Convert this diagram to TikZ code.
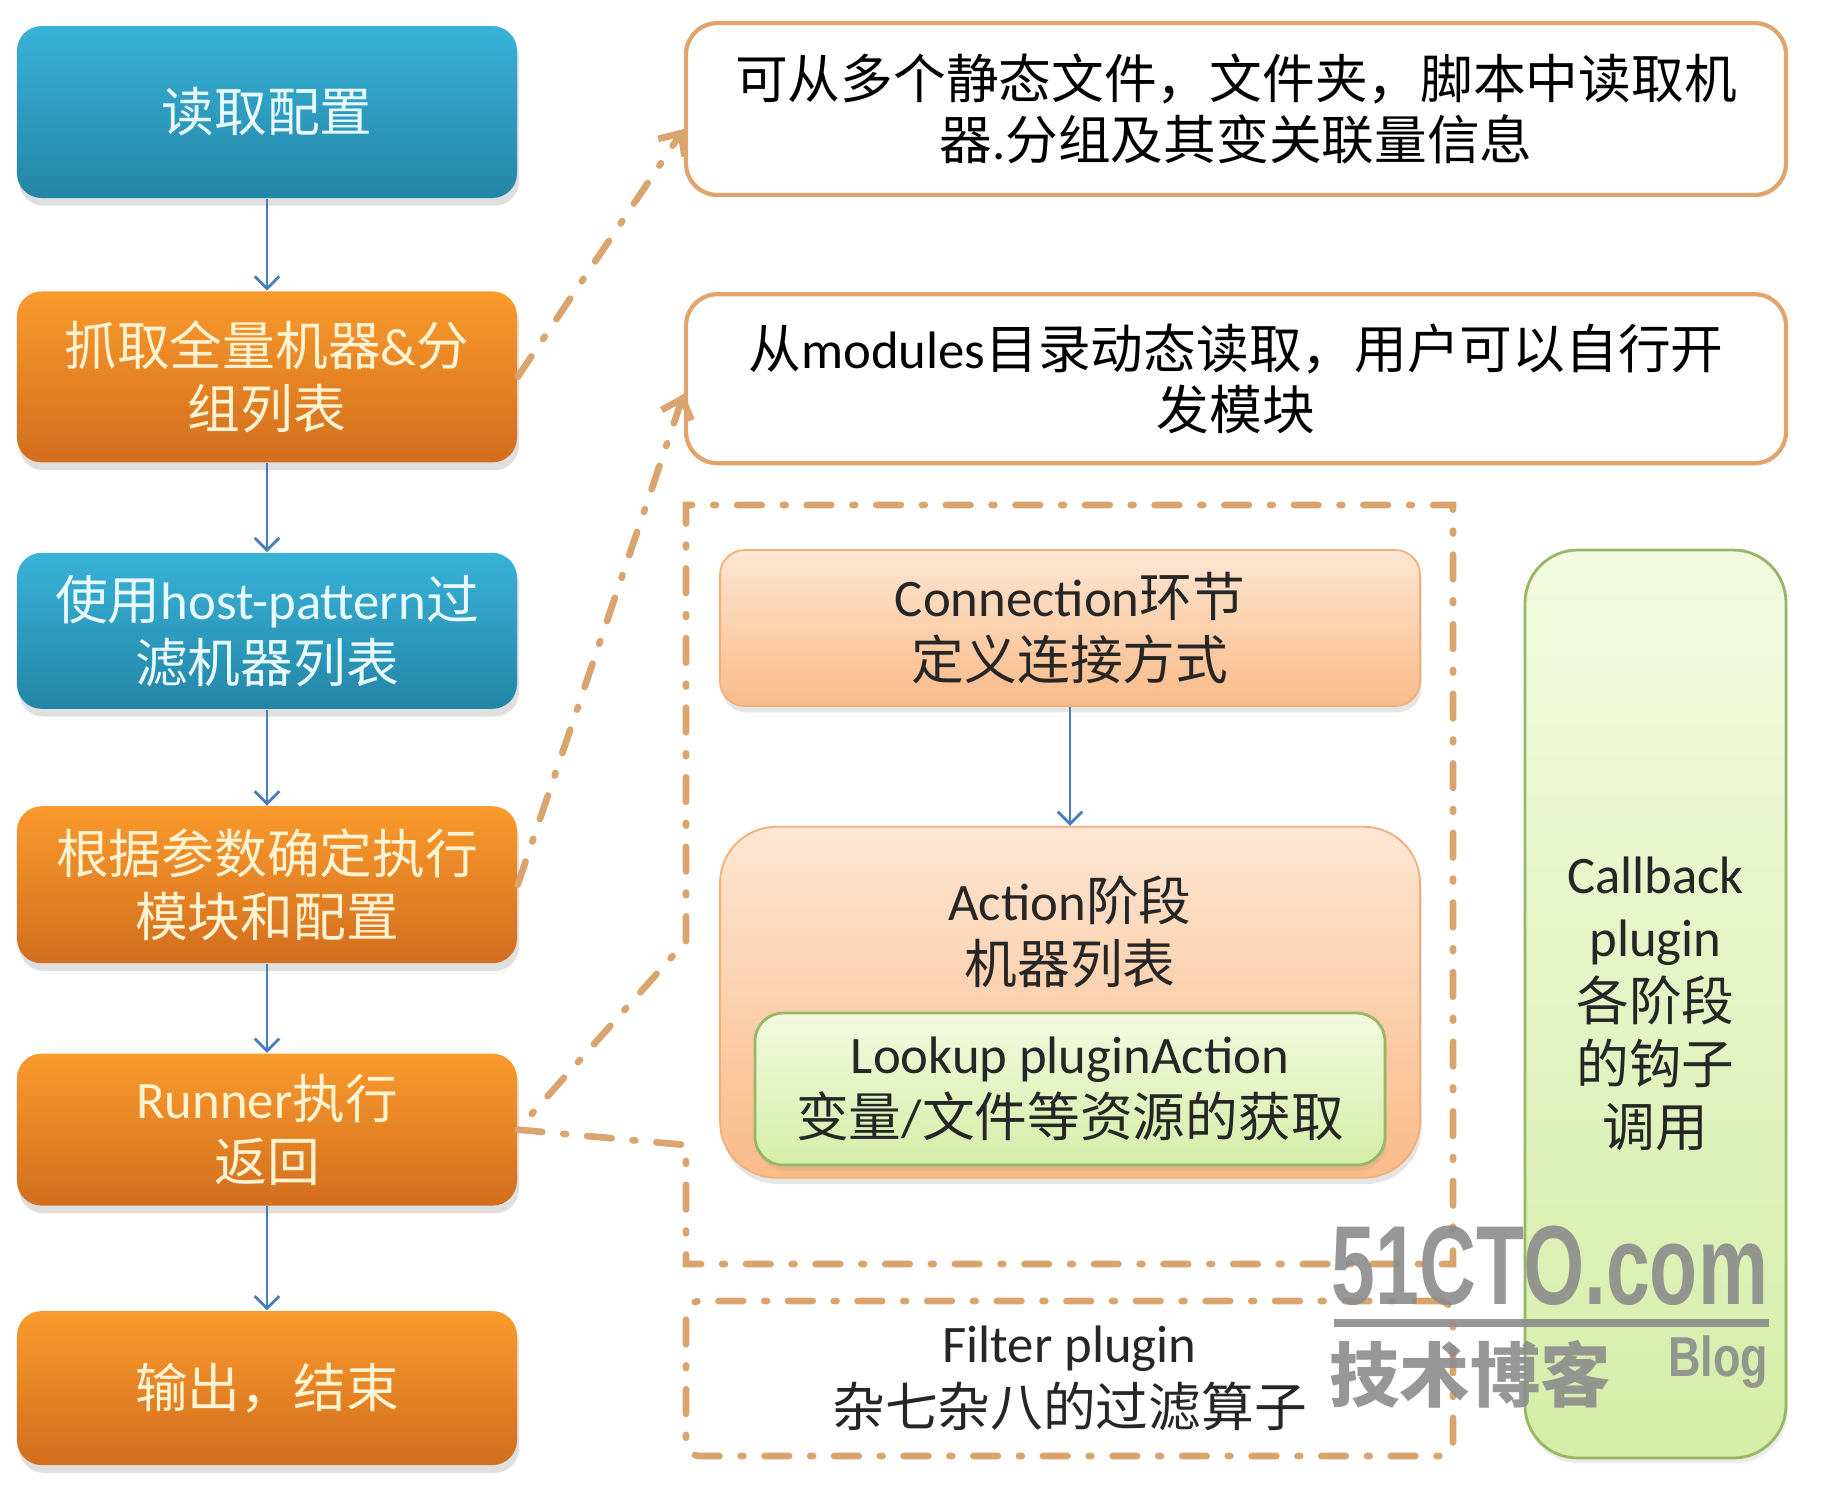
\documentclass[tikz,border=0pt]{standalone}
\usepackage{fontspec}
\usepackage{graphicx}
\setmainfont{Carlito}
\newfontfamily\cjk{Noto Sans CJK SC}
\newfontfamily\latfont{Carlito}
\newfontfamily\wmfont{Liberation Sans}
\newcommand{\eng}[1]{{\latfont #1}}
\usepackage{tikz}
\usetikzlibrary{arrows.meta, positioning, shadows, backgrounds, calc}
\definecolor{flowbluetop}{HTML}{38B2D8}
\definecolor{flowbluebot}{HTML}{2485A6}
\definecolor{flowbluetxt}{HTML}{E8FAFF}
\definecolor{floworangetop}{HTML}{F99A2C}
\definecolor{floworangebot}{HTML}{D26E1E}
\definecolor{floworangetxt}{HTML}{FFF3D2}
\definecolor{noteborder}{HTML}{E2A36C}
\definecolor{phasetop}{HTML}{FDE6D3}
\definecolor{phasebot}{HTML}{FABB88}
\definecolor{phaseborder}{HTML}{F2AE78}
\definecolor{plugintop}{HTML}{F3FADF}
\definecolor{pluginbot}{HTML}{D5EDA8}
\definecolor{pluginborder}{HTML}{96B865}
\definecolor{arrowblue}{HTML}{4A7EBB}
\definecolor{calloutc}{HTML}{D9A46E}
\definecolor{wmgray}{HTML}{8C8C8C}
\tikzset{
  % Main flow steps (left column)
  flowstep/.style={
    rectangle, rounded corners=7pt, minimum width=5cm, minimum height=1.55cm,
    top color=#1top, bottom color=#1bot, draw=none,
    drop shadow={shadow xshift=0.6pt, shadow yshift=-2.2pt, opacity=0.25},
    text=#1txt, font=\cjk\fontsize{15}{18}\selectfont, align=center,
  },
  flowstep/.default={flowblue},
  % Explanation boxes
  note/.style={
    rectangle, rounded corners=9pt, minimum width=11cm, minimum height=1.72cm,
    draw=noteborder, fill=white, line width=1.2pt, text=black,
    font=\cjk\fontsize{15}{17.5}\selectfont, align=center,
  },
  % Execution phases
  phase/.style={
    rectangle, rounded corners=#1, minimum width=7cm, minimum height=1.56cm,
    top color=phasetop, bottom color=phasebot, draw=phaseborder, line width=0.5pt,
    drop shadow={shadow xshift=0.5pt, shadow yshift=-1.8pt, opacity=0.2},
    text=black!85, font=\cjk\fontsize{15}{18}\selectfont, align=center,
  },
  phase/.default={7pt},
  % Plugins
  plugin/.style={
    rectangle, rounded corners=#1, top color=plugintop, bottom color=pluginbot,
    draw=pluginborder, line width=0.8pt,
    drop shadow={shadow xshift=0.5pt, shadow yshift=-1.5pt, opacity=0.15},
    text=black!85, font=\cjk\fontsize{15}{18}\selectfont, align=center,
  },
  plugin/.default={7pt},
  phasetext/.style={text=black!85, font=\cjk\fontsize{15}{18}\selectfont, align=center},
  % Arrows
  flowarrow/.style={-{Straight Barb[length=3.5pt,width=7pt]}, draw=arrowblue, line width=0.8pt},
  callout/.style={draw=calloutc, line width=1.9pt, line cap=round,
    dash pattern=on 7pt off 6pt on 0.8pt off 6pt},
  callarrow/.style={callout, -{Straight Barb[length=5pt,width=9pt]}},
  filterbox/.style={callout, rectangle, rounded corners=4pt,
    minimum width=7.67cm, minimum height=1.55cm,
    text=black!85, font=\cjk\fontsize{15}{18}\selectfont, align=center},
  % Watermark
  wmark/.style={text=wmgray, opacity=0.9, inner sep=0pt},
}

\begin{document}
\begin{tikzpicture}
  \fill[white] (0,0) rectangle (18.22,-14.94);
  \useasboundingbox (0,0) rectangle (18.22,-14.94);

  % Left flow
  \node[flowstep=flowblue, minimum height=1.72cm] (b1) at (2.67,-1.12) {读取配置};
  \node[flowstep=floworange, minimum height=1.71cm, below=0.92cm of b1] (b2)
    {抓取全量机器\eng{\&}分\\组列表};
  \node[flowstep=flowblue, minimum height=1.56cm, below=0.89cm of b2] (b3)
    {使用\eng{host-pattern}过\\滤机器列表};
  \node[flowstep=floworange, minimum height=1.57cm, below=0.96cm of b3] (b4)
    {根据参数确定执行\\模块和配置};
  \node[flowstep=floworange, minimum height=1.52cm, below=0.89cm of b4] (b5)
    {\eng{Runner}执行\\返回};
  \node[flowstep=floworange, minimum height=1.54cm, below=1.04cm of b5] (b6)
    {输出，结束};

  \draw[flowarrow] (b1) -- (b2);
  \draw[flowarrow] (b2) -- (b3);
  \draw[flowarrow] (b3) -- (b4);
  \draw[flowarrow] (b4) -- (b5);
  \draw[flowarrow] (b5) -- (b6);

  % Right column
  \node[note] (t1) at (12.36,-1.09)
    {可从多个静态文件，文件夹，脚本中读取机\\器\eng{.}分组及其变关联量信息};
  \node[note, minimum height=1.69cm, below=0.95cm of t1] (t2)
    {从\eng{modules}目录动态读取，用户可以自行开\\发模块};

  \node[phase] (conn) at (10.70,-6.28) {\eng{Connection}环节\\定义连接方式};
  \node[phase=16pt, minimum height=3.51cm, below=1.19cm of conn] (action) {};
  \node[phasetext] (acttitle) at (10.70,-9.32) {\eng{Action}阶段\\机器列表};
  \node[plugin=8pt, minimum width=6.3cm, minimum height=1.52cm] (lookup) at (10.70,-10.89)
    {\eng{Lookup pluginAction}\\变量\eng{/}文件等资源的获取};
  \draw[flowarrow] (conn) -- (action);

  \node[plugin=15pt, minimum width=2.61cm, minimum height=9.08cm] (callback) at (16.555,-10.04)
    {\eng{Callback}\\\eng{plugin}\\各阶段\\的钩子\\调用};

  \node[filterbox] (filter) at (10.695,-13.785) {\eng{Filter plugin}\\杂七杂八的过滤算子};

  % Runner frame
  \coordinate (frame-nw) at (6.86,-5.05);
  \coordinate (frame-se) at (14.53,-12.64);
  \coordinate (frame-up) at (6.86,-9.41);
  \coordinate (frame-lo) at (6.86,-11.45);
  \draw[callout] (frame-up) -- (frame-nw) -| (frame-se) -| (frame-lo) -- (b5.east) -- cycle;

  % Callouts
  \draw[callarrow] (b2.east) -- ([yshift=-0.2cm]t1.west);
  \draw[callarrow] (b4.east) -- ([yshift=-0.15cm]t2.west);

  % Watermark
  \node[wmark, font=\wmfont\bfseries\fontsize{32}{32}\selectfont] (wm) at (15.50,-12.66)
    {\scalebox{0.7}[1]{51CTO.com}};
  \fill[wmgray, opacity=0.9] ($(wm.south west)+(0.03,-0.12)$) rectangle ($(wm.south east)+(0,-0.2)$);
  \node[wmark, font=\cjk\bfseries\fontsize{20}{20}\selectfont] (wmcn) at (14.70,-13.74) {技术博客};
  \node[wmark, font=\wmfont\bfseries\fontsize{16}{16}\selectfont] (wmblog) at (17.18,-13.62)
    {\scalebox{0.8}[1]{Blog}};
\end{tikzpicture}
\end{document}
